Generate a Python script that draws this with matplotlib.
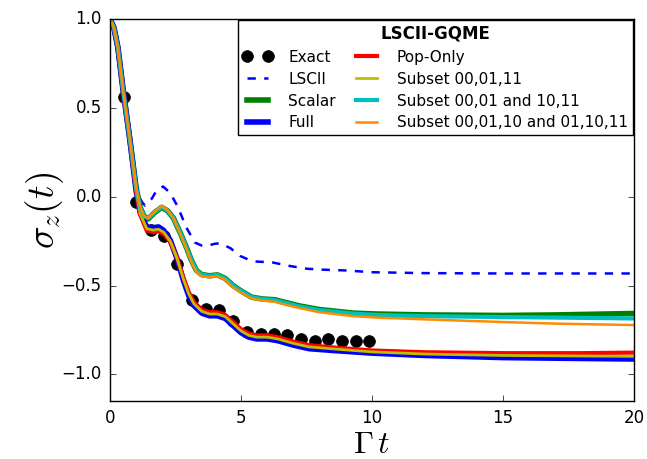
import numpy as np
import matplotlib
matplotlib.use("Agg")
import matplotlib.pyplot as plt

plt.style.use("classic")
plt.rcParams["figure.facecolor"] = "white"
plt.rcParams["savefig.facecolor"] = "white"

# exact reference populations
t_exact = [0.52, 0.98, 1.55, 2.05, 2.57, 3.12, 3.66, 4.17, 4.71, 5.24,
           5.75, 6.26, 6.77, 7.3, 7.82, 8.33, 8.84, 9.37, 9.89]
sz_exact = [0.56, -0.03, -0.19, -0.22, -0.38, -0.58, -0.63, -0.64, -0.70, -0.76,
            -0.77, -0.77, -0.78, -0.80, -0.81, -0.80, -0.81, -0.81, -0.81]

# LSCII
t_lsc = [0, 0.15, 0.3, 0.5, 0.75, 1.0, 1.15, 1.34, 1.6, 1.8, 2.03, 2.3, 2.6,
         2.9, 3.24, 3.5, 3.69, 4.0, 4.2, 4.6, 4.96, 5.3, 5.6, 6.2, 6.87, 7.5,
         8.0, 9.0, 10.0, 12.0, 15.0, 20.0]
sz_lsc = [1.0, 0.95, 0.84, 0.6, 0.33, 0.06, -0.02, -0.05, -0.01, 0.04, 0.057,
          0.02, -0.06, -0.17, -0.258, -0.275, -0.277, -0.265, -0.262, -0.29,
          -0.333, -0.355, -0.365, -0.37, -0.39, -0.405, -0.41, -0.415, -0.425,
          -0.43, -0.432, -0.432]

# GQME with scalar-like memory (upper group)
t_up = [0, 0.15, 0.3, 0.5, 0.75, 1.0, 1.15, 1.3, 1.46, 1.7, 1.97, 2.2, 2.42,
        2.7, 2.93, 3.1, 3.3, 3.5, 3.8, 4.1, 4.4, 4.7, 5.0, 5.4, 5.8, 6.3,
        6.75, 7.25, 8.0, 9.3, 10.2, 12.0, 15.0, 17.0, 20.0]
sz_scalar = [1.0, 0.95, 0.84, 0.6, 0.33, 0.05, -0.06, -0.11, -0.125, -0.09,
             -0.06, -0.08, -0.12, -0.21, -0.29, -0.355, -0.415, -0.438, -0.445,
             -0.44, -0.46, -0.50, -0.53, -0.565, -0.575, -0.58, -0.597, -0.615,
             -0.635, -0.655, -0.66, -0.665, -0.668, -0.665, -0.657]
sz_sub2 = [1.0, 0.95, 0.84, 0.6, 0.33, 0.05, -0.06, -0.11, -0.122, -0.088,
           -0.058, -0.08, -0.12, -0.21, -0.29, -0.355, -0.415, -0.438, -0.445,
           -0.44, -0.46, -0.50, -0.53, -0.565, -0.575, -0.582, -0.6, -0.618,
           -0.638, -0.658, -0.665, -0.672, -0.677, -0.68, -0.685]
sz_sub3 = [1.0, 0.95, 0.84, 0.6, 0.33, 0.05, -0.06, -0.11, -0.12, -0.085,
           -0.052, -0.075, -0.12, -0.215, -0.298, -0.365, -0.425, -0.448,
           -0.453, -0.448, -0.468, -0.51, -0.54, -0.572, -0.584, -0.592, -0.61,
           -0.627, -0.65, -0.672, -0.68, -0.69, -0.705, -0.714, -0.722]

# GQME with full / population-only memory (lower group)
t_lo = [0, 0.15, 0.3, 0.5, 0.75, 1.0, 1.15, 1.4, 1.65, 1.85, 2.05, 2.3, 2.55,
        2.8, 3.0, 3.2, 3.5, 3.8, 4.1, 4.4, 4.7, 5.0, 5.3, 5.6, 6.0, 6.4, 7.0,
        7.6, 8.5, 10.0, 12.0, 15.0, 18.0, 20.0]
sz_full = [1.0, 0.95, 0.84, 0.6, 0.33, 0.03, -0.09, -0.17, -0.175, -0.17,
           -0.19, -0.245, -0.345, -0.47, -0.555, -0.612, -0.655, -0.67, -0.67,
           -0.685, -0.725, -0.765, -0.79, -0.8, -0.8, -0.81, -0.835, -0.855,
           -0.865, -0.88, -0.893, -0.905, -0.91, -0.913]
sz_pop = [1.0, 0.95, 0.84, 0.6, 0.33, 0.03, -0.10, -0.19, -0.2, -0.195, -0.21,
          -0.255, -0.34, -0.455, -0.535, -0.592, -0.635, -0.65, -0.65, -0.665,
          -0.705, -0.745, -0.77, -0.78, -0.78, -0.79, -0.815, -0.835, -0.848,
          -0.865, -0.875, -0.88, -0.88, -0.877]
sz_sub1 = [1.0, 0.95, 0.84, 0.6, 0.33, 0.03, -0.095, -0.18, -0.188, -0.183,
           -0.2, -0.25, -0.343, -0.462, -0.545, -0.602, -0.645, -0.66, -0.66,
           -0.675, -0.715, -0.755, -0.78, -0.79, -0.79, -0.8, -0.825, -0.845,
           -0.856, -0.873, -0.885, -0.893, -0.896, -0.898]

fig = plt.figure(figsize=(6.47, 4.59), dpi=100)
ax = fig.add_axes([0.170, 0.126, 0.810, 0.833])

ax.plot(t_exact, sz_exact, "ko", ms=8.5, mec="k", label="Exact")
ax.plot(t_lsc, sz_lsc, "b--", lw=1.8, label="LSCII")
ax.plot(t_up, sz_scalar, color="g", lw=4, label="Scalar")
ax.plot(t_lo, sz_full, color="b", lw=4, label="Full")
ax.plot(t_lo, sz_pop, color="r", lw=3, label="Pop-Only")
ax.plot(t_lo, sz_sub1, color="y", lw=2, label="Subset 00,01,11")
ax.plot(t_up, sz_sub2, color="c", lw=3, label="Subset 00,01 and 10,11")
ax.plot(t_up, sz_sub3, color="darkorange", lw=1.8,
        label="Subset 00,01,10 and 01,10,11")

ax.set_xlim(0, 20)
ax.set_ylim(-1.15, 1.0)
ax.set_xticks([0, 5, 10, 15, 20])
ax.set_yticks([-1.0, -0.5, 0.0, 0.5, 1.0])
ax.tick_params(labelsize=12, pad=6)
ax.set_xlabel(r"$\Gamma\, t$", fontsize=23, labelpad=1)
ax.set_ylabel(r"$\sigma_z(t)$", fontsize=27, labelpad=-3)

leg = ax.legend(loc="upper right", ncol=2, fontsize=11, numpoints=2,
                handlelength=2.0, columnspacing=1.0, borderaxespad=0.1,
                borderpad=0.3, labelspacing=0.45, handletextpad=1.0,
                title="LSCII-GQME")
leg.get_title().set_fontweight("bold")
leg.get_title().set_fontsize(12)

fig.savefig("out.png", dpi=100)
